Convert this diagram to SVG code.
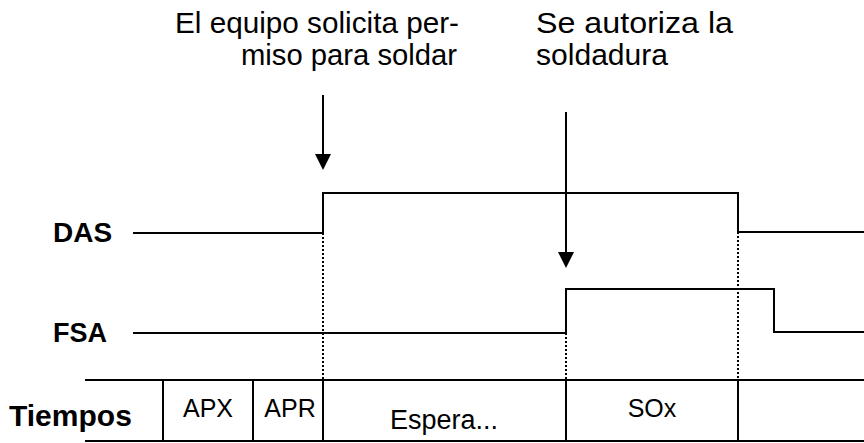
<svg xmlns="http://www.w3.org/2000/svg" width="864" height="443" viewBox="0 0 864 443">
<style>
.sig{fill:none;stroke:#000;stroke-width:2}
.dot{fill:none;stroke:#000;stroke-width:2;stroke-dasharray:2 2}
.tab{fill:none;stroke:#000;stroke-width:2}
.lbl{font-family:"Liberation Sans",Arial,sans-serif;font-weight:bold;font-size:28px;fill:#000}
.note{font-family:"Liberation Sans",Arial,sans-serif;font-size:29px;fill:#000}
.cell{font-family:"Liberation Sans",Arial,sans-serif;font-size:25px;fill:#000;text-anchor:middle}
</style>
<rect width="864" height="443" fill="#fff"/>
<g id="labels">
<text class="lbl" x="53" y="242">DAS</text>
<text class="lbl" x="53" y="342" style="font-size:27px">FSA</text>
<text class="lbl" x="9" y="426" style="font-size:30px">Tiempos</text>
</g>
<g id="note1">
<text class="note" x="175" y="33" textLength="284" lengthAdjust="spacingAndGlyphs">El equipo solicita per-</text>
<text class="note" x="241" y="65" textLength="216" lengthAdjust="spacingAndGlyphs">miso para soldar</text>
</g>
<g id="note2">
<text class="note" x="536" y="33" textLength="197" lengthAdjust="spacingAndGlyphs">Se autoriza la</text>
<text class="note" x="536" y="65" textLength="132" lengthAdjust="spacingAndGlyphs">soldadura</text>
</g>
<g id="signals">
<polyline id="DAS" class="sig" points="133,233 323,233 323,193 738,193 738,232 864,232"/>
<polyline id="FSA" class="sig" points="133,333 566,333 566,289 774,289 774,332 864,332"/>
</g>
<g id="connectors">
<line class="dot" x1="323" y1="233" x2="323" y2="380"/>
<line class="dot" x1="566" y1="333" x2="566" y2="380"/>
<line class="dot" x1="738" y1="232" x2="738" y2="380"/>
<line class="sig" x1="323" y1="95" x2="323" y2="156"/>
<polygon points="315,154 331,154 323,170" fill="#000"/>
<line class="sig" x1="566" y1="112" x2="566" y2="254"/>
<polygon points="558,252 574,252 566,268" fill="#000"/>
</g>
<g id="table">
<line class="tab" x1="85" y1="380" x2="864" y2="380"/>
<line class="tab" x1="85" y1="441" x2="864" y2="441"/>
<line class="tab" x1="163" y1="380" x2="163" y2="441"/>
<line class="tab" x1="253" y1="380" x2="253" y2="441"/>
<line class="tab" x1="323" y1="380" x2="323" y2="441"/>
<line class="tab" x1="566" y1="380" x2="566" y2="441"/>
<line class="tab" x1="738" y1="380" x2="738" y2="441"/>
<text class="cell" x="208" y="417">APX</text>
<text class="cell" x="290" y="417">APR</text>
<text class="cell" x="444" y="429" style="font-size:27px">Espera...</text>
<text class="cell" x="652" y="417">SOx</text>
</g>
</svg>
